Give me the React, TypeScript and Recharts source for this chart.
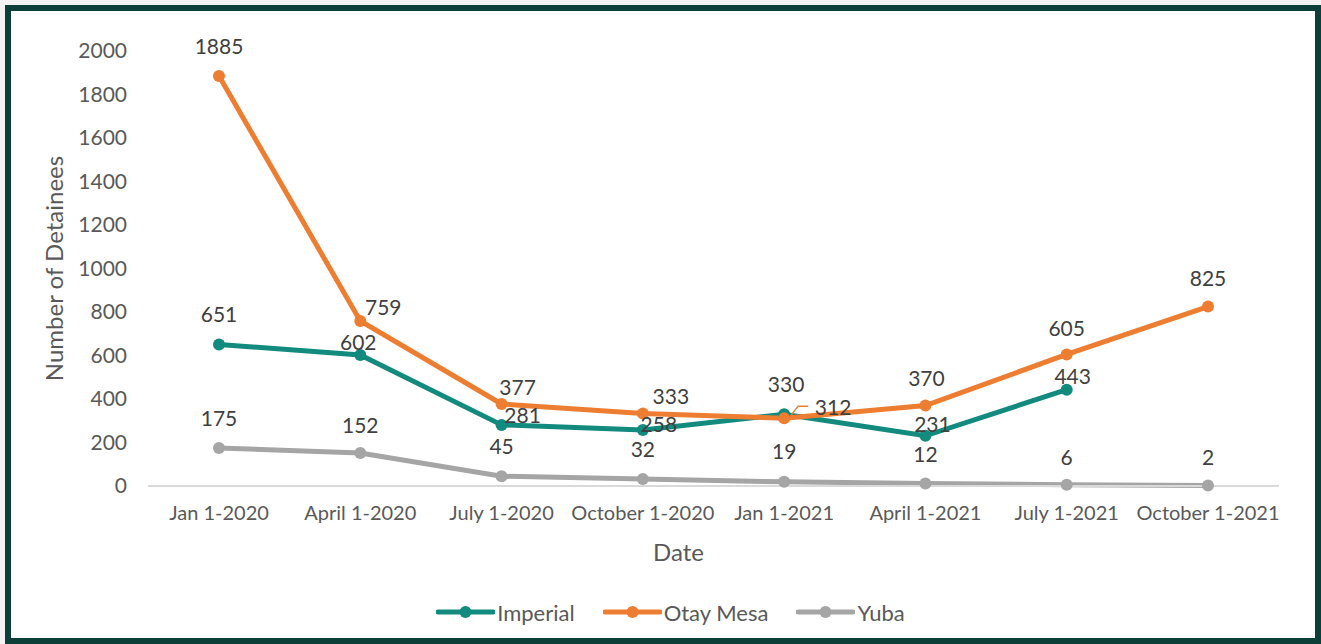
import React from 'react';
import { LineChart, Line, XAxis, YAxis, Legend, LabelList, Label } from 'recharts';

const categories = ['Jan 1-2020', 'April 1-2020', 'July 1-2020', 'October 1-2020', 'Jan 1-2021', 'April 1-2021', 'July 1-2021', 'October 1-2021'];
const imperial = [651, 602, 281, 258, 330, 231, 443, null];
const otayMesa = [1885, 759, 377, 333, 312, 370, 605, 825];
const yuba = [175, 152, 45, 32, 19, 12, 6, 2];
const yTicks = [0, 200, 400, 600, 800, 1000, 1200, 1400, 1600, 1800, 2000];

const data = categories.map((date, i) => ({
    date,
    imperial: imperial[i],
    otayMesa: otayMesa[i],
    yuba: yuba[i],
}));

const FONT = 'Lato, "Open Sans", sans-serif';
const COLORS = { imperial: '#138A7E', otayMesa: '#ED7D31', yuba: '#A5A5A5' };

// label nudges (dx, dy from the point) so they sit like the original
const labelShift: Record<string, number[][]> = {
    imperial: [[0, -30], [-2, -12], [21, -9], [16, -5], [2, -30], [7, -11], [6, -13], [0, -29]],
    otayMesa: [[0, -29], [23, -13], [16, -16], [28, -17], [49, -10], [1, -27], [0, -26], [0, -28]],
    yuba: [[0, -29], [0, -27], [0, -30], [0, -29], [0, -30], [0, -29], [0, -27], [0, -28]],
};

const makeLabel = (key: string, color: string) => (props: any) => {
    const { x, y, value, index } = props;
    if (value == null) return null;
    const [dx, dy] = labelShift[key][index] || [0, -29];
    const leader = key === 'otayMesa' && index === 4;
    return (
        <g>
            {leader && (
                <polyline
                    points={`${x + 7},${y - 3} ${x + 14},${y - 12} ${x + 24},${y - 12}`}
                    fill="none"
                    stroke={color}
                    strokeWidth={1.5}
                />
            )}
            <text x={x + dx} y={y + dy} dy="0.35em" textAnchor="middle" fontFamily={FONT} fontSize={21} fill="#404040">
                {value}
            </text>
        </g>
    );
};

const series = [
    { key: 'imperial', name: 'Imperial' },
    { key: 'otayMesa', name: 'Otay Mesa' },
    { key: 'yuba', name: 'Yuba' },
];

const CustomLegend = () => (
    <div style={{ display: 'flex', justifyContent: 'center', alignItems: 'center', height: 40, paddingLeft: 62, fontFamily: FONT }}>
        {series.map((s, i) => (
            <div key={s.key} style={{ display: 'flex', alignItems: 'center', marginRight: i < series.length - 1 ? 28 : 0 }}>
                <svg width={59} height={16}>
                    <line x1={2} y1={8} x2={57} y2={8} stroke={(COLORS as any)[s.key]} strokeWidth={5} strokeLinecap="round" />
                    <circle cx={29.5} cy={8} r={6} fill={(COLORS as any)[s.key]} />
                </svg>
                <span style={{ fontSize: 22, color: '#595959', marginLeft: 2 }}>{s.name}</span>
            </div>
        ))}
    </div>
);

export default function App() {
    return (
        <div style={{ position: 'absolute', left: 0, top: 0, width: 1321, height: 644, background: '#F3F3F3' }}>
            <div
                style={{
                    position: 'absolute',
                    left: 5,
                    top: 5,
                    width: 1316,
                    height: 639,
                    boxSizing: 'border-box',
                    border: '6px solid #0C3F38',
                    background: '#FFFFFF',
                }}
            />
            <div style={{ position: 'absolute', left: 0, top: 0 }}>
                <LineChart width={1321} height={644} data={data} margin={{ top: 51, right: 42, bottom: 12, left: 0 }}>
                    <XAxis
                        dataKey="date"
                        height={106}
                        padding={{ left: 71, right: 71 }}
                        axisLine={{ stroke: '#D9D9D9', strokeWidth: 2 }}
                        tickLine={false}
                        tickSize={0}
                        tickMargin={20}
                        interval={0}
                        tick={{ fontFamily: FONT, fontSize: 20, fill: '#595959' }}
                    >
                        <Label
                            content={(p: any) => {
                                const vb = p.viewBox || { x: 148, y: 486, width: 1131 };
                                return (
                                    <text x={vb.x + vb.width / 2 - 35} y={vb.y + 67} dy="0.35em" textAnchor="middle" fontFamily={FONT} fontSize={24} fill="#595959">
                                        Date
                                    </text>
                                );
                            }}
                        />
                    </XAxis>
                    <YAxis
                        width={148}
                        domain={[0, 2000]}
                        ticks={yTicks}
                        axisLine={false}
                        tickLine={false}
                        tickSize={0}
                        tickMargin={21}
                        tick={{ fontFamily: FONT, fontSize: 21, fill: '#595959' }}
                    >
                        <Label
                            content={(p: any) => {
                                const vb = p.viewBox || { x: 0, y: 51, height: 435 };
                                const cx = vb.x + 55;
                                const cy = vb.y + vb.height / 2;
                                return (
                                    <text x={cx} y={cy} dy="0.35em" textAnchor="middle" transform={`rotate(-90 ${cx} ${cy})`} fontFamily={FONT} fontSize={24} fill="#595959">
                                        Number of Detainees
                                    </text>
                                );
                            }}
                        />
                    </YAxis>
                    <Legend verticalAlign="bottom" content={<CustomLegend />} />
                    {series.map((s) => (
                        <Line
                            key={s.key}
                            type="linear"
                            dataKey={s.key}
                            name={s.name}
                            stroke={(COLORS as any)[s.key]}
                            strokeWidth={5}
                            dot={{ r: 6, fill: (COLORS as any)[s.key], stroke: 'none' }}
                            isAnimationActive={false}
                        >
                            <LabelList dataKey={s.key} content={makeLabel(s.key, (COLORS as any)[s.key])} />
                        </Line>
                    ))}
                </LineChart>
            </div>
        </div>
    );
}
